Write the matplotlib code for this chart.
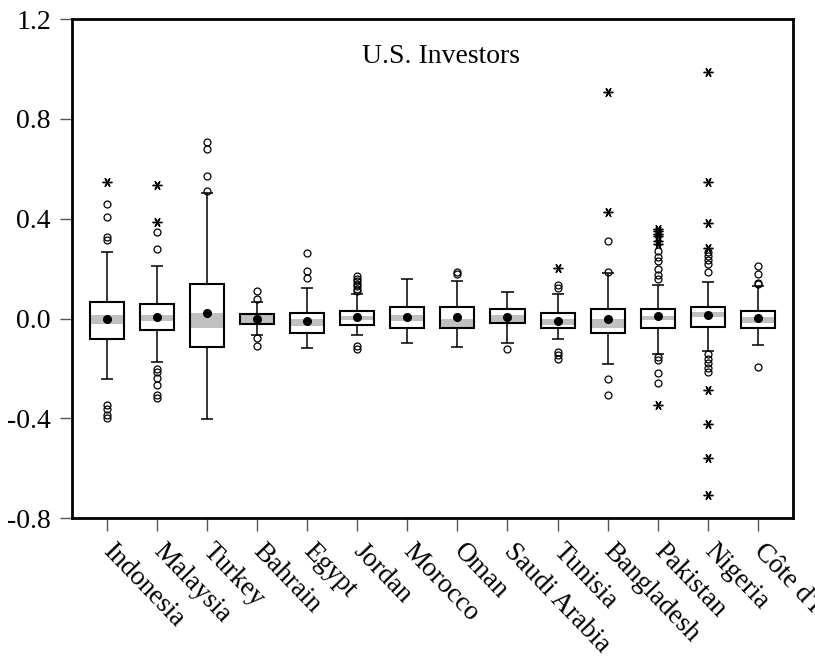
import numpy as np
import matplotlib.pyplot as plt

plt.rcParams['font.family'] = ['Liberation Serif', 'DejaVu Serif']
plt.rcParams['axes.unicode_minus'] = False

countries = ['Indonesia', 'Malaysia', 'Turkey', 'Bahrain', 'Egypt', 'Jordan', 'Morocco',
             'Oman', 'Saudi Arabia', 'Tunisia', 'Bangladesh', 'Pakistan', 'Nigeria',
             "Côte d'Ivoire"]

# box statistics per country
q1 = [-0.083, -0.047, -0.114, -0.023, -0.060, -0.024, -0.037,
      -0.037, -0.016, -0.037, -0.060, -0.037, -0.033, -0.037]
q3 = [0.067, 0.060, 0.138, 0.017, 0.024, 0.031, 0.047,
      0.047, 0.037, 0.023, 0.037, 0.037, 0.047, 0.031]
whis_lo = [-0.243, -0.174, -0.401, -0.067, -0.120, -0.068, -0.099,
           -0.114, -0.099, -0.084, -0.182, -0.144, -0.131, -0.107]
whis_hi = [0.265, 0.212, 0.504, 0.067, 0.123, 0.100, 0.159,
           0.151, 0.107, 0.099, 0.184, 0.136, 0.147, 0.130]
# shaded band around the median
ci_lo = [-0.023, -0.009, -0.040, -0.020, -0.029, -0.007, -0.009,
         -0.037, -0.013, -0.027, -0.040, -0.007, 0.007, -0.016]
ci_hi = [0.016, 0.016, 0.024, 0.013, 0.000, 0.011, 0.016,
         0.000, 0.016, 0.000, 0.000, 0.011, 0.027, 0.007]
means = [0.000, 0.007, 0.024, -0.003, -0.011, 0.005, 0.005,
         0.005, 0.005, -0.011, -0.003, 0.009, 0.013, 0.003]

# near outliers (circles) and far outliers (asterisks)
near_out = [
    [0.461, 0.408, 0.325, 0.313, -0.347, -0.361, -0.388, -0.397],
    [0.347, 0.278, -0.203, -0.214, -0.238, -0.267, -0.307, -0.317],
    [0.709, 0.681, 0.573, 0.513],
    [0.112, 0.077, -0.080, -0.110],
    [0.263, 0.191, 0.163],
    [0.170, 0.160, 0.150, 0.140, 0.130, 0.120, 0.110, -0.111, -0.124],
    [],
    [0.187, 0.180],
    [-0.123],
    [0.136, 0.123, -0.134, -0.147, -0.163],
    [0.310, 0.187, -0.244, -0.307],
    [0.270, 0.247, 0.230, 0.198, 0.176, 0.160, -0.154, -0.167, -0.220, -0.260],
    [0.267, 0.251, 0.234, 0.218, 0.187, -0.144, -0.163, -0.180, -0.198, -0.214],
    [0.211, 0.180, 0.144, 0.140, -0.194],
]
far_out = [
    [0.548],
    [0.537, 0.387],
    [],
    [],
    [],
    [],
    [],
    [],
    [],
    [0.204],
    [0.906, 0.428],
    [0.360, 0.350, 0.340, 0.330, 0.310, 0.300, -0.347],
    [0.990, 0.546, 0.381, 0.281, -0.287, -0.421, -0.558, -0.708],
    [],
]

pos = np.arange(1, len(countries) + 1)
box_w = 0.68
cap_w = 0.24

fig = plt.figure(figsize=(8.15, 6.6), dpi=100)
ax = fig.add_axes([0.088, 0.215, 0.885, 0.756])

# boxes: white fill, gray median band, black outline on top
ax.bar(pos, np.subtract(q3, q1), bottom=q1, width=box_w, color='white', lw=0, zorder=2)
ax.bar(pos, np.subtract(ci_hi, ci_lo), bottom=ci_lo, width=box_w - 0.02,
       color='#c0c0c0', lw=0, zorder=3)
ax.bar(pos, np.subtract(q3, q1), bottom=q1, width=box_w, fill=False,
       edgecolor='black', lw=1.5, zorder=4)

# whiskers and caps
ax.vlines(pos, whis_lo, q1, color='black', lw=1.1, zorder=1)
ax.vlines(pos, q3, whis_hi, color='black', lw=1.1, zorder=1)
ax.hlines(whis_lo, pos - cap_w / 2, pos + cap_w / 2, color='black', lw=1.1)
ax.hlines(whis_hi, pos - cap_w / 2, pos + cap_w / 2, color='black', lw=1.1)

# means
ax.plot(pos, means, 'o', color='black', ms=5.5, zorder=5)

for p, near, far in zip(pos, near_out, far_out):
    if near:
        ax.plot([p] * len(near), near, 'o', mfc='none', mec='black', ms=5, mew=0.9, zorder=5)
    if far:
        ax.plot([p] * len(far), far, marker=(6, 2, 90), ls='none', color='black',
                ms=7, mew=1.0, zorder=5)

ax.text(0.512, 0.925, 'U.S. Investors', transform=ax.transAxes, ha='center', va='center',
        fontsize=20)

ax.set_xlim(0.3, 14.7)
ax.set_ylim(-0.8, 1.2)
ax.set_yticks([-0.8, -0.4, 0.0, 0.4, 0.8, 1.2])
ax.set_yticklabels(['%.1f' % v for v in [-0.8, -0.4, 0.0, 0.4, 0.8, 1.2]], fontsize=20)
ax.set_xticks(pos)
ax.set_xticklabels(countries, fontsize=19.5, rotation=-46, ha='left', va='center',
                   rotation_mode='anchor')
ax.tick_params(axis='both', direction='out', length=9, width=1, color='#555555')
ax.tick_params(axis='x', pad=12)
ax.tick_params(axis='y', pad=6)

for s in ax.spines.values():
    s.set_linewidth(2)

fig.savefig('out.png', dpi=100)
